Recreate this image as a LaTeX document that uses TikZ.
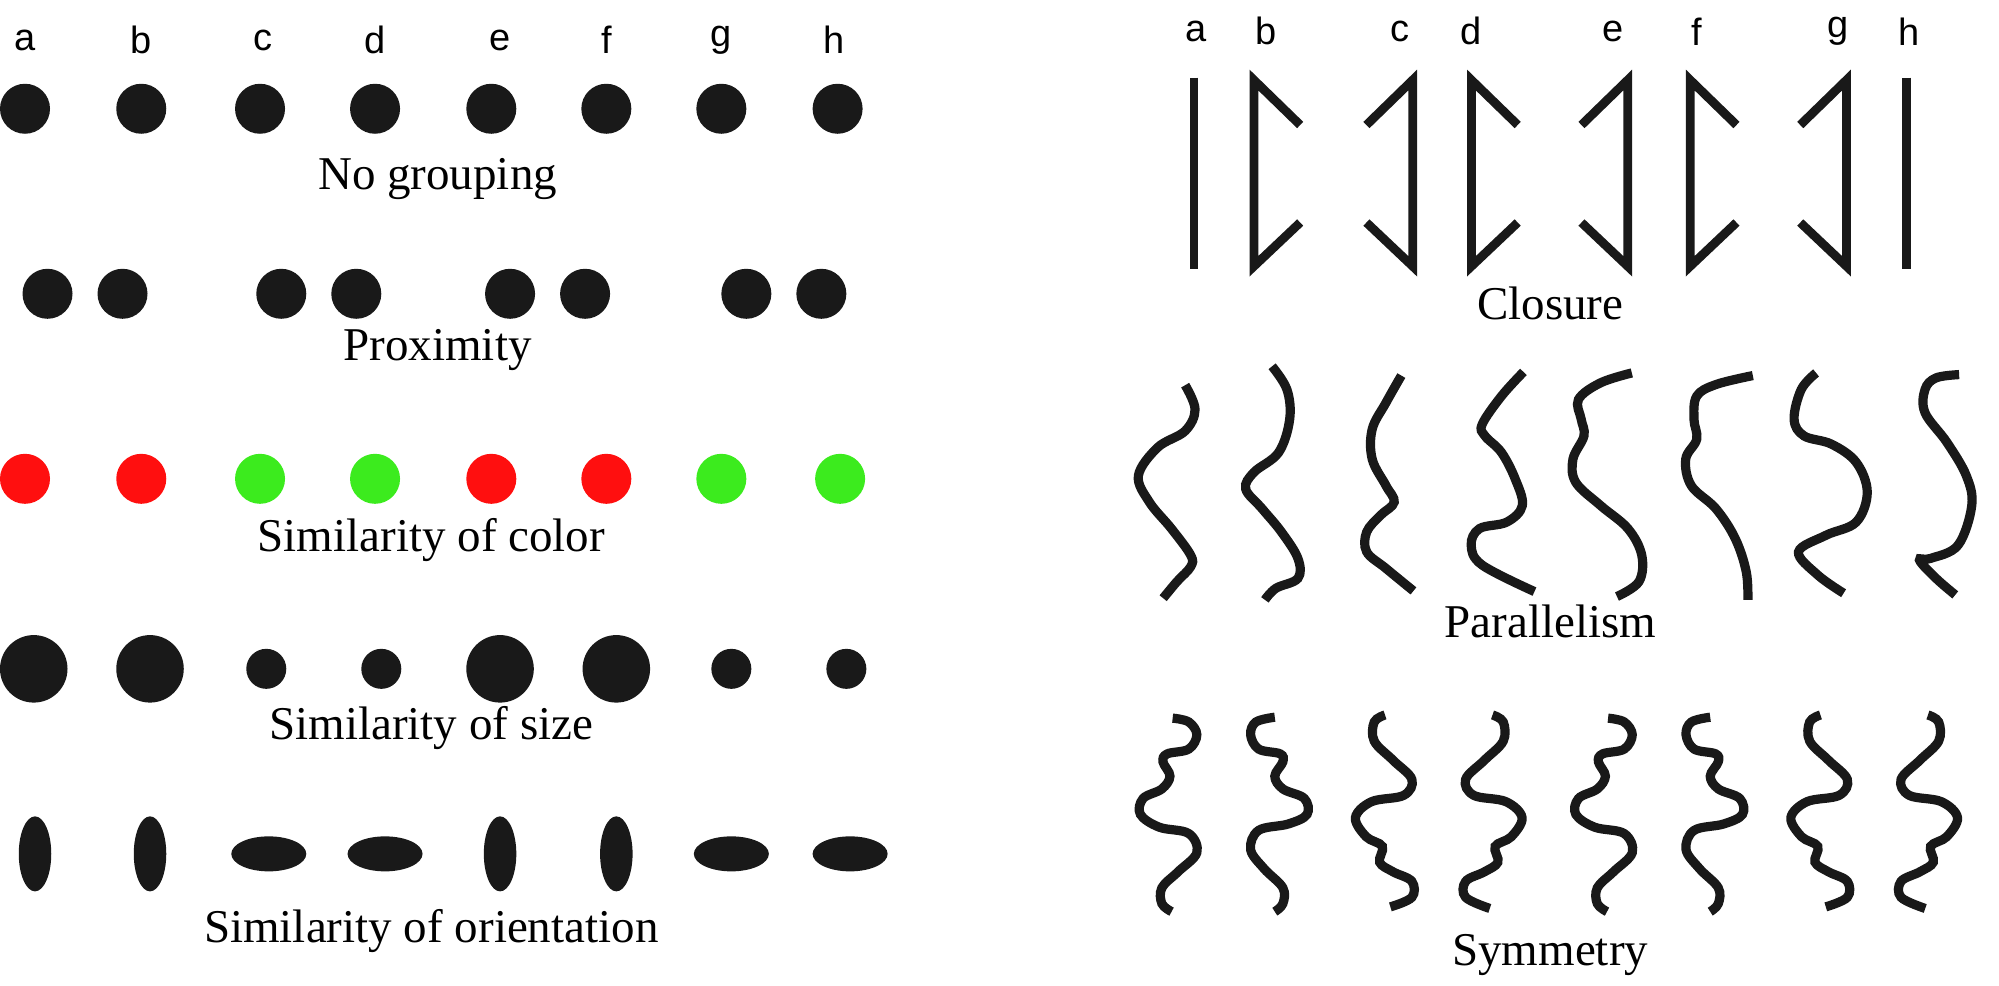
\documentclass[tikz,border=0pt]{standalone}
\usepackage{fontspec}
\setmainfont{Liberation Serif}
\newfontfamily\lsans{Liberation Sans}
\begin{document}
\begin{tikzpicture}[x=0.625pt,y=-0.625pt,
  dot/.style={fill=black!90},
  lbl/.style={font=\lsans\fontsize{19}{21}\selectfont},
  ttl/.style={font=\fontsize{23.5}{26}\selectfont},
  bar/.style={line width=4.4pt,draw=black!90},
  crv/.style={line width=4.6pt,draw=black!90,line cap=butt}]
\useasboundingbox (0,0) rectangle (1599,788);
% left letters
\foreach \l/\x in {a/20,b/113,c/210,d/300,e/400,f/485,g/577,h/667}
  \node[lbl] (L\l) at (\x,32) {\l};
\foreach \x in {20,113,208,300,393,485,577,670}
  \fill[dot] (\x,87) circle (20);
\node[ttl] (t1) at (350,143) {No grouping};
\foreach \x in {38,98,225,285,408,468,597,657}
  \fill[dot] (\x,235) circle (20);
\node[ttl] (t2) at (350,280) {Proximity};
\definecolor{myred}{RGB}{255,15,15}
\definecolor{mygreen}{RGB}{60,235,30}
\foreach \x/\c in {20/myred,113/myred,208/mygreen,300/mygreen,393/myred,485/myred,577/mygreen,672/mygreen}
  \fill[\c] (\x,383) circle (20);
\node[ttl] (t3) at (345,432) {Similarity of color};
\foreach \x/\r in {27/27,120/27,213/16,305/16,400/27,493/27,585/16,677/16}
  \fill[dot] (\x,535) circle (\r);
\node[ttl] (t4) at (345,582) {Similarity of size};
\foreach \x in {28,120,400,493}
  \fill[dot] (\x,683) ellipse [x radius=13,y radius=30];
\foreach \x in {215,308,585,680}
  \fill[dot] (\x,683) ellipse [x radius=30,y radius=14];
\node[ttl] (t5) at (345,745) {Similarity of orientation};
% right letters
\foreach \l/\x in {a/957,b/1013,c/1120,d/1177,e/1290,f/1357,g/1470,h/1527}
  \node[lbl] (R\l) at (\x,25) {\l};
% closure
\draw[bar] (955,62) -- (955,215);
\draw[bar] (1525,62) -- (1525,215);
\foreach \x in {1003,1177,1352}
  \draw[bar,line join=miter] (\x+37,100) -- (\x,64) -- (\x,213) -- (\x+37,178);
\foreach \x in {1130,1302,1477}
  \draw[bar,line join=miter] (\x-37,100) -- (\x,64) -- (\x,213) -- (\x-37,178);
\node[ttl] (t6) at (1240,243) {Closure};
% parallelism
\begin{scope}[shift={(893,282.4)},xscale=0.44,yscale=0.265]
\draw[crv] plot[smooth,tension=0.6] coordinates {(125,97)(143,170)(125,235)(75,285)(40,370)(60,450)(100,530)(135,610)(135,645)(110,690)(85,740)};
\draw[crv] plot[smooth,tension=0.6] coordinates {(283,40)(310,110)(315,200)(295,300)(250,360)(235,410)(265,470)(300,540)(330,620)(330,680)(290,710)(270,745)};
\draw[crv] plot[smooth,tension=0.6] coordinates {(518,68)(490,150)(465,230)(465,320)(490,400)(505,450)(480,490)(455,540)(455,600)(490,650)(540,718)};
\draw[crv] plot[smooth,tension=0.6] coordinates {(740,57)(700,130)(665,215)(670,250)(700,300)(725,380)(738,460)(710,510)(660,530)(645,580)(665,640)(760,720)};
\draw[crv] plot[smooth,tension=0.6] coordinates {(937,60)(880,90)(840,140)(845,200)(850,250)(830,320)(835,390)(880,460)(930,530)(955,610)(950,690)(910,735)};
\draw[crv] plot[smooth,tension=0.6] coordinates {(1157,68)(1090,95)(1055,130)(1050,200)(1055,260)(1035,320)(1045,400)(1090,470)(1125,560)(1145,660)(1148,745)};
\draw[crv] plot[smooth,tension=0.6] coordinates {(1272,60)(1245,110)(1232,200)(1250,250)(1300,275)(1345,330)(1365,420)(1345,510)(1290,550)(1240,600)(1275,670)(1322,725)};
\draw[crv] plot[smooth,tension=0.6] coordinates {(1532,65)(1490,75)(1470,110)(1470,180)(1510,270)(1545,370)(1555,460)(1530,580)(1480,620)(1460,625)(1490,680)(1525,730)};
\end{scope}
\node[ttl] (t7) at (1240,497) {Parallelism};
% symmetry
\begin{scope}[shift={(895,552)},xscale=0.43,yscale=0.255]
\foreach \s in {0,810}{
\draw[crv] plot[smooth,tension=0.6] coordinates {(100+\s,88)(130+\s,100)(145+\s,140)(130+\s,185)(90+\s,200)(82+\s,225)(95+\s,270)(80+\s,310)(45+\s,340)(40+\s,390)(75+\s,430)(130+\s,450)(145+\s,510)(110+\s,570)(80+\s,620)(80+\s,670)(98+\s,695)};
\draw[crv] plot[smooth,tension=0.6] coordinates {(290+\s,85)(255+\s,100)(245+\s,140)(260+\s,185)(300+\s,200)(305+\s,225)(290+\s,270)(305+\s,310)(345+\s,340)(350+\s,390)(315+\s,420)(260+\s,440)(245+\s,500)(270+\s,560)(305+\s,620)(305+\s,670)(290+\s,695)};
\draw[crv] plot[smooth,tension=0.6] coordinates {(495+\s,78)(475+\s,100)(475+\s,160)(510+\s,220)(545+\s,280)(530+\s,330)(470+\s,350)(440+\s,400)(460+\s,460)(490+\s,490)(485+\s,540)(510+\s,570)(545+\s,600)(545+\s,650)(505+\s,680)};
\draw[crv] plot[smooth,tension=0.6] coordinates {(695+\s,78)(715+\s,100)(715+\s,160)(680+\s,220)(645+\s,280)(660+\s,330)(720+\s,350)(750+\s,400)(730+\s,460)(700+\s,490)(705+\s,540)(680+\s,570)(645+\s,600)(645+\s,650)(690+\s,685)};
}
\end{scope}
\node[ttl] (t8) at (1240,764) {Symmetry};
\end{tikzpicture}
\end{document}
